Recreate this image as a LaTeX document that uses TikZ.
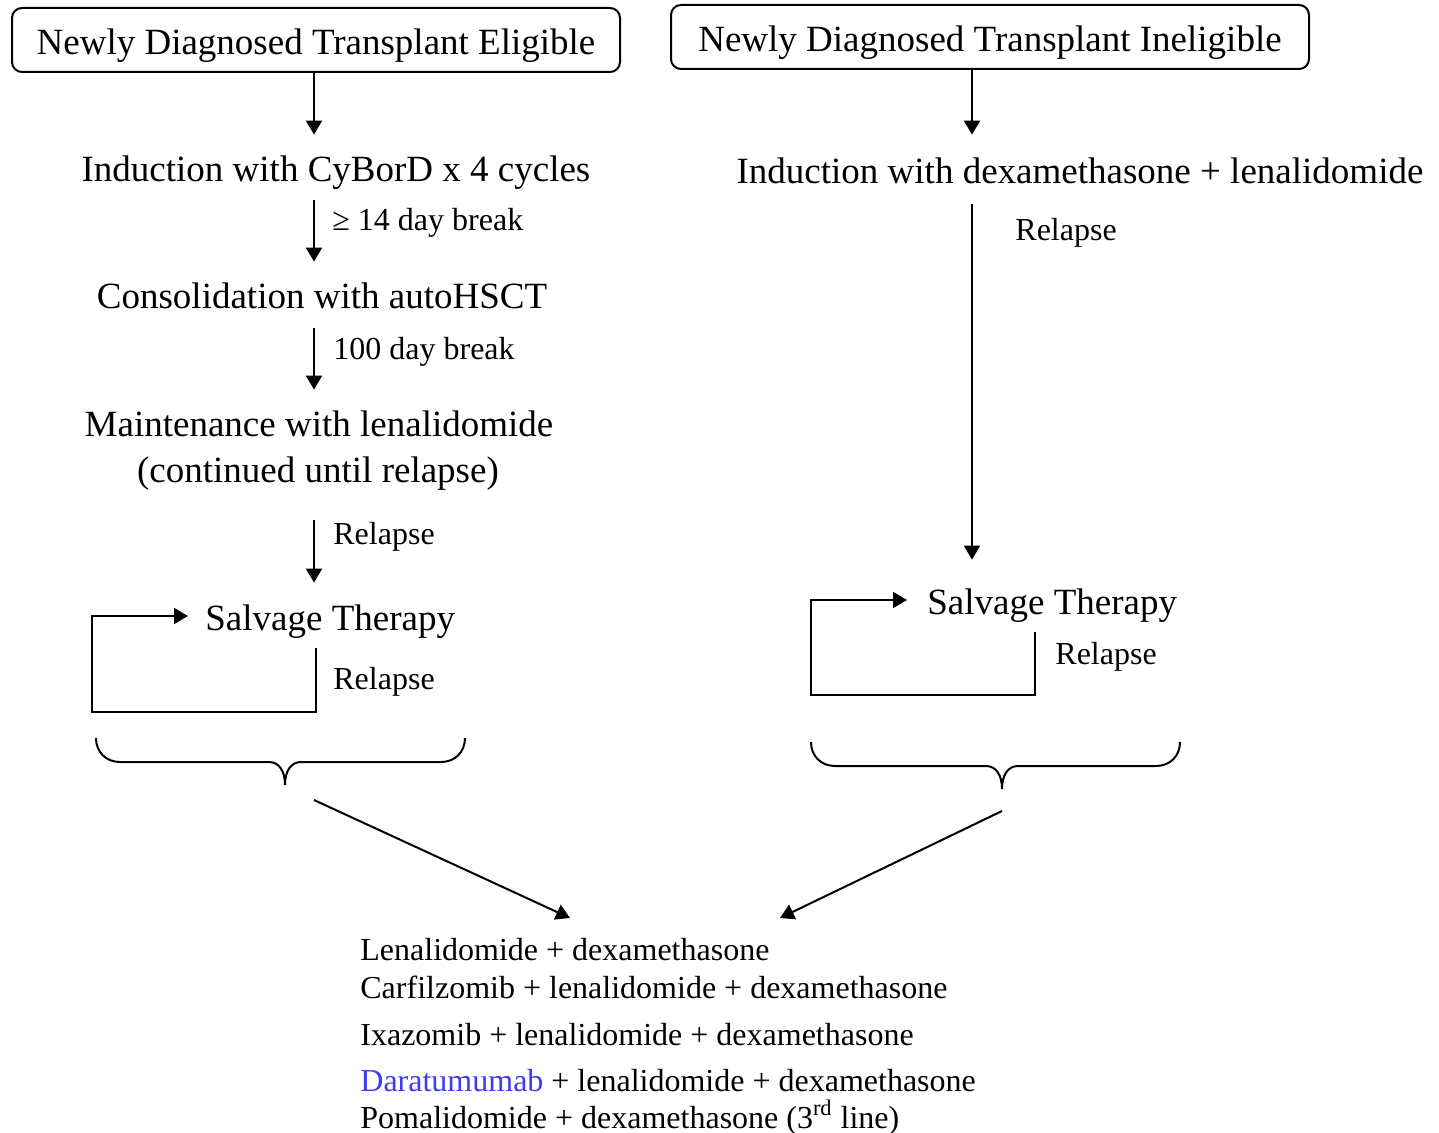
\documentclass[tikz,border=0pt]{standalone}
\usepackage{fontspec}
\setmainfont{Liberation Serif}
\usepackage{xcolor}
\usetikzlibrary{arrows.meta, positioning}
\definecolor{darablue}{RGB}{60,60,245}
\tikzset{
	stage/.style={font=\fontsize{18.5}{22}\selectfont, inner sep=0pt, text height=13pt, text depth=4pt},
	note/.style={font=\fontsize{16}{19}\selectfont, inner sep=0pt, anchor=base west},
	flow/.style={line width=1pt, -{Triangle[length=7pt,width=8pt]}, shorten >=10.5pt},
	loopline/.style={line width=1pt, -{Triangle[length=7pt,width=8pt]}},
	grp/.style={line width=1pt}
}
% brace: (#1,#2) left top, #3 right x, #4 tip x
\newcommand{\grpbrace}[4]{%
	\draw[grp] (#1,#2) .. controls (#1,#2+14) and (#1+10,#2+24) .. (#1+24,#2+24) -- (#4-16,#2+24)
		.. controls (#4-6,#2+24) and (#4,#2+33) .. (#4,#2+47)
		.. controls (#4,#2+33) and (#4+6,#2+24) .. (#4+16,#2+24)
		-- (#3-24,#2+24) .. controls (#3-10,#2+24) and (#3,#2+14) .. (#3,#2);}

\begin{document}
\begin{tikzpicture}[x=0.5pt, y=-0.5pt,
	start/.style={stage, draw, rounded corners=5pt, line width=1pt, minimum height=32pt, text height=15pt, text depth=0pt}]
\useasboundingbox (0,0) rectangle (1439,1133);
% transplant eligible
\node[start, minimum width=304pt] (elig) at (316,40) {Newly Diagnosed Transplant Eligible};
\node[stage, anchor=base] (ind1) at (336,182) {Induction with CyBorD x 4 cycles};
\node[stage, anchor=base] (cons) at (322,309) {Consolidation with autoHSCT};
\node[stage, anchor=base] (main1) at (319,437) {Maintenance with lenalidomide};
\node[stage, anchor=base] (main2) at (318,482) {(continued until relapse)};
\node[stage, anchor=base west] (salv1) at (205,630) {Salvage Therapy};
\draw[flow] (elig.south -| 314,0) -- (ind1.north -| 314,0);
\draw[flow, shorten <=5pt] (ind1.south -| 314,0) -- (cons.north -| 314,0);
\draw[flow, shorten <=5.5pt] (cons.south -| 314,0) -- (main1.north -| 314,0);
\draw[flow, shorten <=15pt] (main2.south -| 314,0) -- (salv1.north -| 314,0);
\node[note] (brk1) at (332,231) {≥ 14 day break};
\node[note] (brk2) at (333,360) {100 day break};
\node[note] (rel1) at (333,545) {Relapse};
\node[note] (rel2) at (333,689) {Relapse};
\coordinate (lp1) at (316,648);
\coordinate (lp2) at (92,712);
\draw[loopline, shorten >=8.5pt] (lp1) |- (lp2) |- ([yshift=2.5pt]salv1.west);
\grpbrace{96}{738}{465}{285}
% transplant ineligible
\node[start, minimum width=319pt] (inel) at (990,37) {Newly Diagnosed Transplant Ineligible};
\node[stage, anchor=base] (ind2) at (1080,184) {Induction with dexamethasone + lenalidomide};
\node[stage, anchor=base west] (salv2) at (927,614) {Salvage Therapy};
\draw[flow, shorten >=11.5pt] (inel.south -| 972,0) -- (ind2.north -| 972,0);
\draw[flow, shorten <=6pt, shorten >=14pt] (ind2.south -| 972,0) -- (salv2.north -| 972,0);
\node[note] (rel3) at (1015,241) {Relapse};
\node[note] (rel4) at (1055,664) {Relapse};
\coordinate (lp3) at (1035,632);
\coordinate (lp4) at (811,695);
\draw[loopline, shorten >=10pt] (lp3) |- (lp4) |- ([yshift=2.5pt]salv2.west);
\grpbrace{811}{742}{1180}{1002}
% salvage options
\node[note] (med1) at (360,960) {Lenalidomide + dexamethasone};
\node[note] (med2) at (360,998) {Carfilzomib + lenalidomide + dexamethasone};
\node[note] (med3) at (360,1045) {Ixazomib + lenalidomide + dexamethasone};
\node[note] (med4) at (360,1091) {\textcolor{darablue}{Daratumumab} + lenalidomide + dexamethasone};
\node[note] (med5) at (360,1128) {Pomalidomide + dexamethasone (3\textsuperscript{rd} line)};
\coordinate (t1) at (570,918);
\coordinate (t2) at (780,918);
\draw[flow, shorten >=0pt] (314,800) -- (t1);
\draw[flow, shorten >=0pt] (1002,811) -- (t2);
\end{tikzpicture}
\end{document}
